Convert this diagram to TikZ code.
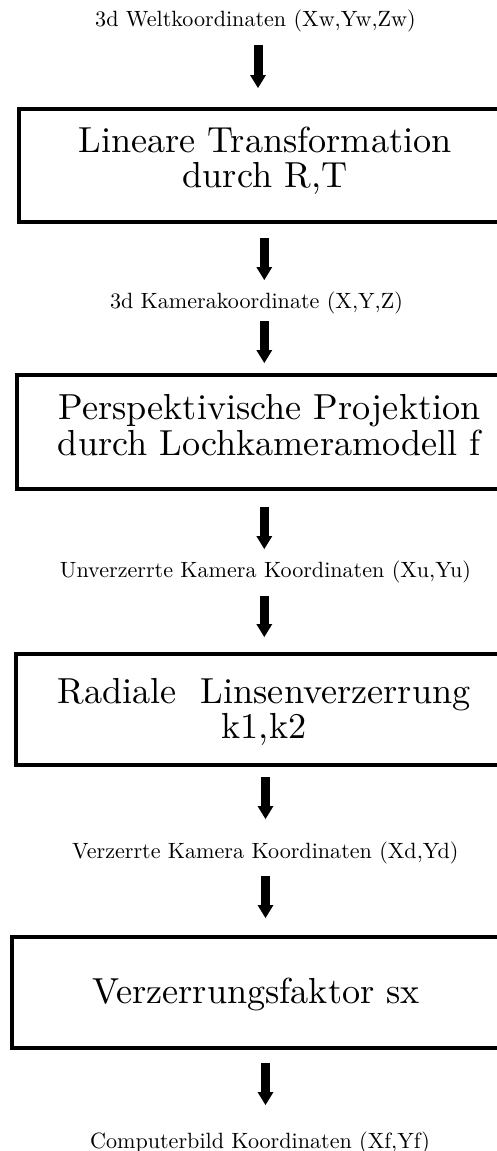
\documentclass[tikz,border=0pt]{standalone}
\usetikzlibrary{arrows.meta}
\newcommand{\lbltext}[1]{\scalebox{2.21}{#1}}
\newcommand{\boxtext}[2]{\scalebox{3.62}{\renewcommand{\arraystretch}{0.795}\begin{tabular}[t]{@{}c@{}}#1\\#2\end{tabular}}}
\begin{document}
\begin{tikzpicture}[x=1pt,y=-1pt,
  lbl/.style={inner sep=0pt,outer sep=0pt,anchor=base},
  procbox/.style={draw,line width=4.4pt,inner sep=0pt},
  arr/.style={line width=9pt,-{Triangle[width=16pt,length=13pt,line width=0pt]}}]
\useasboundingbox (0,0) rectangle (497,1151);
\clip (0,0) rectangle (497,1151);
% boxes
\node[procbox,minimum width=491.6pt,minimum height=112.6pt] (B1) at (265,165.5) {};
\node[procbox,minimum width=504.6pt,minimum height=113.6pt] (B2) at (269.5,432) {};
\node[procbox,minimum width=495.6pt,minimum height=110.6pt] (B3) at (264,709.5) {};
\node[procbox,minimum width=487.6pt,minimum height=110.6pt] (B4) at (256,992.5) {};
% box texts
\node[lbl] (T1) at (265,152.3) {\boxtext{Lineare Transformation}{durch R,T}};
\node[lbl] (T2) at (269.5,419.3) {\boxtext{Perspektivische Projektion}{durch Lochkameramodell f}};
\node[lbl] (T3) at (264,703) {\boxtext{Radiale~~Linsenverzerrung}{k1,k2}};
\node[lbl] (T4) at (256,1003) {\scalebox{3.62}{Verzerrungsfaktor sx}};
% labels
\node[lbl] (L1) at (255.5,26.5) {\lbltext{3d Weltkoordinaten (Xw,Yw,Zw)}};
\node[lbl] (L2) at (256.5,308) {\lbltext{3d Kamerakoordinate (X,Y,Z)}};
\node[lbl] (L3) at (265.5,577.3) {\lbltext{Unverzerrte Kamera Koordinaten (Xu,Yu)}};
\node[lbl] (L4) at (265.3,858.3) {\lbltext{Verzerrte Kamera Koordinaten (Xd,Yd)}};
\node[lbl] (L5) at (260,1148.3) {\lbltext{Computerbild Koordinaten (Xf,Yf)}};
% arrows
\draw[arr] ([xshift=2.5pt,yshift=-18.5pt]L1.base) -- ([xshift=-7pt,yshift=19pt]B1.north);
\draw[arr] ([xshift=-0.7pt,yshift=-14pt]B1.south) -- ([xshift=7.8pt,yshift=28pt]L2.base);
\draw[arr] ([xshift=7.8pt,yshift=-13pt]L2.base) -- ([xshift=-5.2pt,yshift=10pt]B2.north);
\draw[arr] ([xshift=-5.2pt,yshift=-16pt]B2.south) -- ([xshift=-1.2pt,yshift=28.3pt]L3.base);
\draw[arr] ([xshift=-1.2pt,yshift=-18.7pt]L3.base) -- ([xshift=0.3pt,yshift=15pt]B3.north);
\draw[arr] ([xshift=1.5pt,yshift=-10pt]B3.south) -- ([xshift=0.2pt,yshift=39.3pt]L4.base);
\draw[arr] ([xshift=0.2pt,yshift=-17.7pt]L4.base) -- ([xshift=9.5pt,yshift=17pt]B4.north);
\draw[arr] ([xshift=9.5pt,yshift=-13pt]B4.south) -- ([xshift=5.5pt,yshift=43.3pt]L5.base);
\end{tikzpicture}
\end{document}
